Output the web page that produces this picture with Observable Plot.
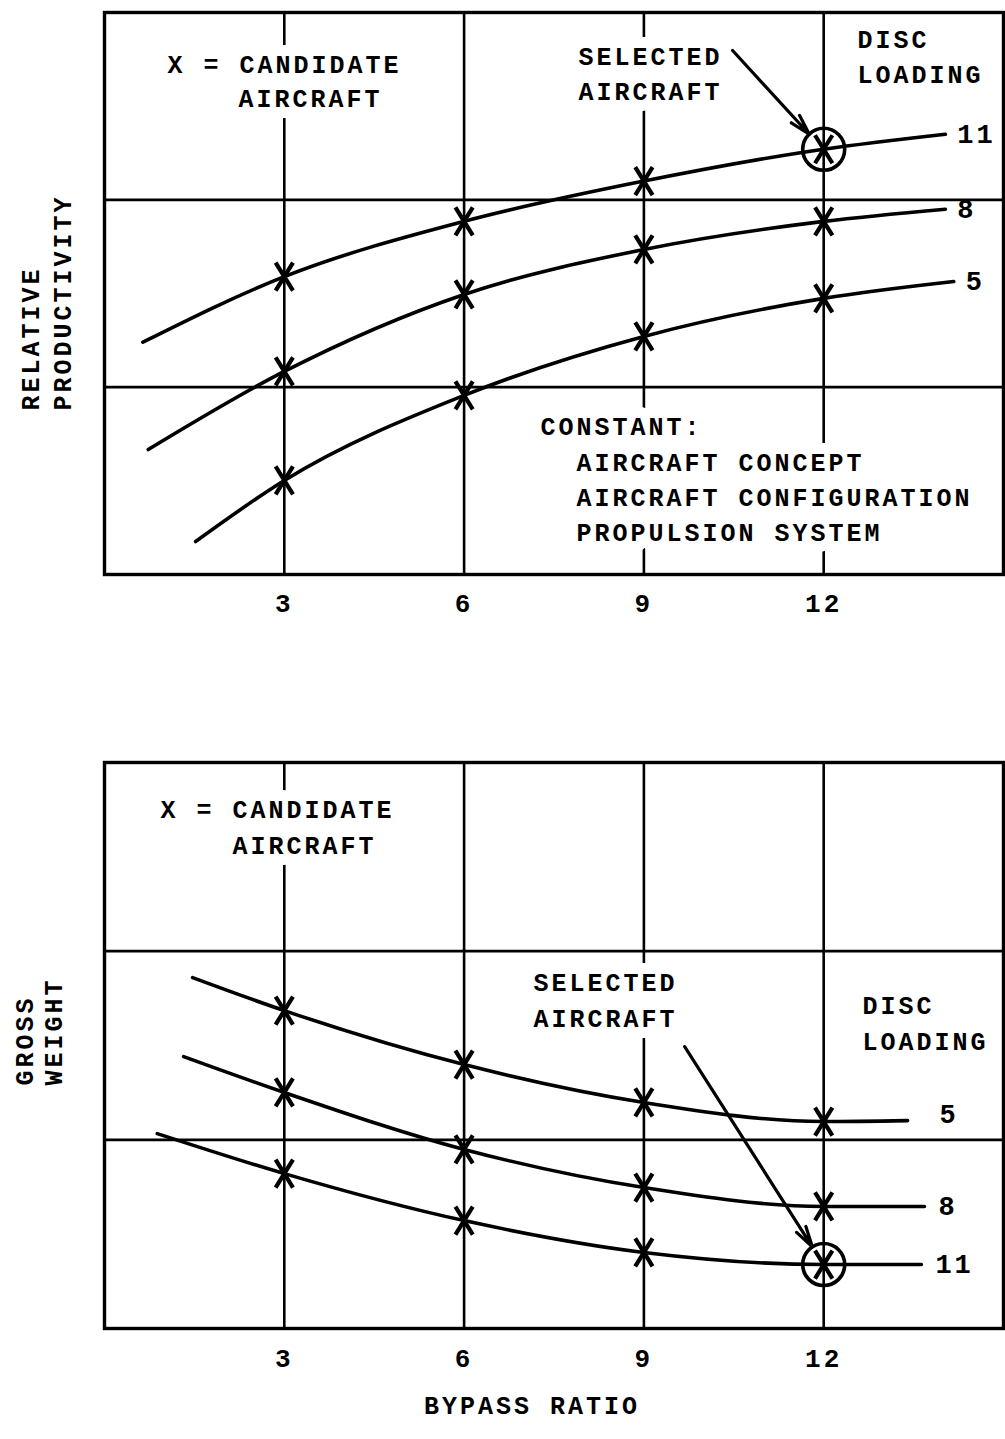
<!DOCTYPE html>
<html>
<head>
<meta charset="utf-8">
<script src="https://cdn.jsdelivr.net/npm/d3@7"></script>
<script src="https://cdn.jsdelivr.net/npm/@observablehq/plot@0.6"></script>
<style>
  html, body { margin: 0; padding: 0; background: #fff; }
  #chart { width: 1005px; }
  #chart svg { display: block; }
  #chart svg text { letter-spacing: 3px; }
</style>
</head>
<body>
<div id="chart"></div>
<script>
// ---------- data ----------
const bypassTicks = [3, 6, 9, 12];
const discLoadings = [11, 8, 5];
const panelGridLines = [1, 2];

// Upper panel: relative productivity (arbitrary units) vs bypass ratio
const prodBypass11 = [0.64, 3, 6, 9, 12, 14.03];
const prodValue11  = [1.24, 1.59, 1.885, 2.10, 2.27, 2.35];
const prodBypass8  = [0.73, 3, 6, 9, 12, 14.03];
const prodValue8   = [0.667, 1.084, 1.495, 1.735, 1.885, 1.95];
const prodBypass5  = [1.52, 3, 6, 9, 12, 14.17];
const prodValue5   = [0.176, 0.502, 0.956, 1.271, 1.474, 1.564];

// Lower panel: gross weight (arbitrary units) vs bypass ratio
const wtBypass5  = [1.47, 3, 6, 9, 12, 13.40];
const wtValue5   = [1.86, 1.685, 1.399, 1.198, 1.097, 1.102];
const wtBypass8  = [1.32, 3, 6, 9, 12, 13.68];
const wtValue8   = [1.441, 1.251, 0.949, 0.747, 0.647, 0.647];
const wtBypass11 = [0.88, 3, 6, 9, 12, 13.63];
const wtValue11  = [1.033, 0.821, 0.572, 0.403, 0.339, 0.339];

const selectedBypass = 12;
const selectedDisc = 11;

// ---------- helpers ----------
const font = "'Liberation Mono', 'DejaVu Sans Mono', monospace";
function rows(xs, ys, dl) { return xs.map((x, i) => ({x, y: ys[i], dl})); }
const prodRows = [
  ...rows(prodBypass11, prodValue11, 11),
  ...rows(prodBypass8, prodValue8, 8),
  ...rows(prodBypass5, prodValue5, 5)
];
const wtRows = [
  ...rows(wtBypass5, wtValue5, 5),
  ...rows(wtBypass8, wtValue8, 8),
  ...rows(wtBypass11, wtValue11, 11)
];
const isCandidate = d => bypassTicks.includes(d.x);
const lastOf = rs => discLoadings.map(dl => rs.filter(d => d.dl === dl).at(-1));
const selectedOf = rs => rs.filter(d => d.dl === selectedDisc && d.x === selectedBypass);

// tall "X" candidate marker
const tallX = {
  draw(ctx, size) {
    const r = Math.sqrt(size / Math.PI);
    const w = r * 0.62, h = r;
    ctx.moveTo(-w, -h); ctx.lineTo(w, h);
    ctx.moveTo(w, -h); ctx.lineTo(-w, h);
  }
};

function panel(o) {
  return Plot.plot({
    width: 1005,
    height: o.height,
    marginTop: o.marginTop,
    marginBottom: o.marginBottom,
    marginLeft: 104,
    marginRight: 2,
    x: {domain: [0, 15], label: null},
    y: {domain: [0, 3], axis: null, label: null},
    style: {fontFamily: font, fontSize: "25px", fontWeight: "bold", color: "black", background: "white"},
    marks: [
      Plot.ruleX(bypassTicks, {stroke: "black", strokeWidth: 2.6}),
      Plot.ruleY(panelGridLines, {stroke: "black", strokeWidth: 2.6}),
      Plot.frame({stroke: "black", strokeWidth: 3.4}),
      Plot.text(o.notes, {x: "x", y: "y", text: "t", textAnchor: "start", fill: "black", stroke: "white", strokeWidth: 22}),
      Plot.line(o.rows, {x: "x", y: "y", z: "dl", curve: "monotone-x", stroke: "black", strokeWidth: 3.6}),
      Plot.dot(o.rows.filter(isCandidate), {x: "x", y: "y", symbol: tallX, r: 14, fill: "none", stroke: "black", strokeWidth: 4.2}),
      Plot.dot(selectedOf(o.rows), {x: "x", y: "y", r: 21, fill: "none", stroke: "black", strokeWidth: 3.6}),
      Plot.arrow(o.arrow, {x1: "x1", y1: "y1", x2: "x2", y2: "y2", stroke: "black", strokeWidth: 3.2, headLength: 10, headAngle: 30}),
      ...o.labels,
      Plot.axisX(bypassTicks, {tickSize: 0, tickPadding: o.tickPadding, label: null, fontSize: 26}),
      ...o.titles
    ]
  });
}

const prodChart = panel({
  height: 640, marginTop: 12, marginBottom: 66, tickPadding: 19,
  rows: prodRows,
  notes: [
    {x: 1.05, y: 2.722, t: "X = CANDIDATE"},
    {x: 2.236, y: 2.536, t: "AIRCRAFT"},
    {x: 7.909, y: 2.765, t: "SELECTED"},
    {x: 7.909, y: 2.578, t: "AIRCRAFT"},
    {x: 12.565, y: 2.851, t: "DISC"},
    {x: 12.565, y: 2.664, t: "LOADING"},
    {x: 7.275, y: 0.785, t: "CONSTANT:"},
    {x: 7.876, y: 0.593, t: "AIRCRAFT CONCEPT"},
    {x: 7.876, y: 0.411, t: "AIRCRAFT CONFIGURATION"},
    {x: 7.876, y: 0.219, t: "PROPULSION SYSTEM"}
  ],
  arrow: [{x1: 10.48, y1: 2.797, x2: 11.76, y2: 2.35}],
  labels: [
    Plot.text(lastOf(prodRows), {x: "x", y: "y", text: d => String(d.dl), textAnchor: "start", dx: 12, fontSize: 27})
  ],
  titles: [
    Plot.text(["RELATIVE"], {frameAnchor: "left", text: d => d, rotate: -90, textAnchor: "start", dx: -74, dy: 117}),
    Plot.text(["PRODUCTIVITY"], {frameAnchor: "left", text: d => d, rotate: -90, textAnchor: "start", dx: -42, dy: 117})
  ]
});

const wtEnds = lastOf(wtRows);
const weightChart = panel({
  height: 799, marginTop: 122, marginBottom: 111, tickPadding: 20,
  rows: wtRows,
  notes: [
    {x: 0.934, y: 2.746, t: "X = CANDIDATE"},
    {x: 2.136, y: 2.560, t: "AIRCRAFT"},
    {x: 7.158, y: 1.829, t: "SELECTED"},
    {x: 7.158, y: 1.638, t: "AIRCRAFT"},
    {x: 12.648, y: 1.707, t: "DISC"},
    {x: 12.648, y: 1.521, t: "LOADING"}
  ],
  arrow: [{x1: 9.68, y1: 1.494, x2: 11.81, y2: 0.433}],
  labels: [
    Plot.text(wtEnds.filter(d => d.dl !== 5), {x: "x", y: "y", text: d => String(d.dl), textAnchor: "start", dx: 14, fontSize: 27}),
    Plot.text(wtEnds.filter(d => d.dl === 5), {x: "x", y: "y", text: d => String(d.dl), textAnchor: "start", dx: 32, dy: -6, fontSize: 27})
  ],
  titles: [
    Plot.text(["GROSS"], {frameAnchor: "left", text: d => d, rotate: -90, textAnchor: "start", dx: -80, dy: 40}),
    Plot.text(["WEIGHT"], {frameAnchor: "left", text: d => d, rotate: -90, textAnchor: "start", dx: -51, dy: 40}),
    Plot.text(["BYPASS RATIO"], {frameAnchor: "bottom", text: d => d, dx: -22, dy: 85})
  ]
});

document.getElementById("chart").append(prodChart, weightChart);
</script>
</body>
</html>
